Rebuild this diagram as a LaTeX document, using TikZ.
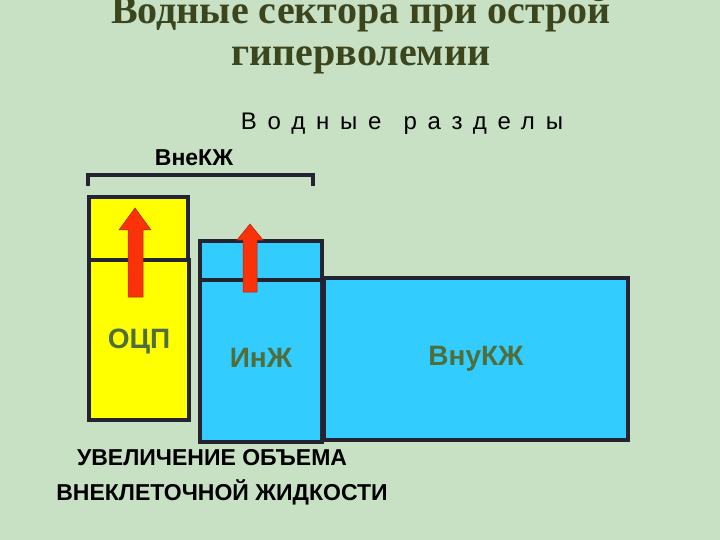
\documentclass[tikz,border=0pt]{standalone}
\usepackage{fontspec}
\setmainfont{Liberation Serif}
\newfontfamily\sansf{Liberation Sans}
\newfontfamily\sansspaced[LetterSpace=45]{Liberation Sans}
\usetikzlibrary{arrows.meta}
\definecolor{bg}{RGB}{200,224,196}
\definecolor{ttl}{RGB}{60,70,30}
\definecolor{lbl}{RGB}{80,110,60}
\definecolor{yel}{RGB}{255,255,0}
\definecolor{cya}{RGB}{51,204,255}
\definecolor{edge}{RGB}{35,35,50}
\definecolor{arr}{RGB}{250,50,10}
\begin{document}
\begin{tikzpicture}[x=1pt,y=-1pt,
  box/.style={draw=edge,line width=4pt},
  uparrow/.style={draw=arr!70!black,fill=arr,line width=0.5pt},
  sect/.style={font=\sansf\bfseries\fontsize{28}{32}\selectfont,text=lbl},
  captext/.style={font=\sansf\bfseries\fontsize{23}{26}\selectfont,text=black}]
\fill[bg] (0,0) rectangle (720,540);
\useasboundingbox (0,0) rectangle (720,540);
\node[font=\bfseries\fontsize{40}{42}\selectfont,text=ttl,align=center] (title) at (361,35) {Водные сектора при острой\\гиперволемии};
\node[font=\sansspaced\fontsize{24}{28}\selectfont,text=black] (wd) at (402,124) {Водные\hspace{22pt}разделы};
\node[font=\sansf\bfseries\fontsize{23}{26}\selectfont,text=black] (vne) at (194,158) {ВнеКЖ};
\draw[edge,line width=3.5pt] (88,186) -- (88,175) -- (313,175) -- (313,186);
\draw[box,fill=yel] (89,197) rectangle (188,260);
\draw[box,fill=yel] (89,260) rectangle (189,420) node[midway,sect,yshift=-2] (ocp) {ОЦП};
\draw[box,fill=cya] (200,241) rectangle (322,280);
\draw[box,fill=cya] (200,280) rectangle (322,442) node[midway,sect,yshift=3] (inzh) {ИнЖ};
\draw[box,fill=cya] (324,278) rectangle (628,440) node[midway,sect] (vnu) {ВнуКЖ};
\draw[uparrow] (128,297) -- (143,297) -- (143,230) -- (151,230) -- (135,208) -- (119,230) -- (128,230) -- cycle;
\draw[uparrow] (243,292) -- (257,292) -- (257,240) -- (263,240) -- (250,224) -- (237,240) -- (243,240) -- cycle;
\node[captext,inner sep=1pt] (c1) at (212,458) {УВЕЛИЧЕНИЕ ОБЪЕМА};
\node[captext] (c2) at (222,492) {ВНЕКЛЕТОЧНОЙ ЖИДКОСТИ};
\end{tikzpicture}
\end{document}
